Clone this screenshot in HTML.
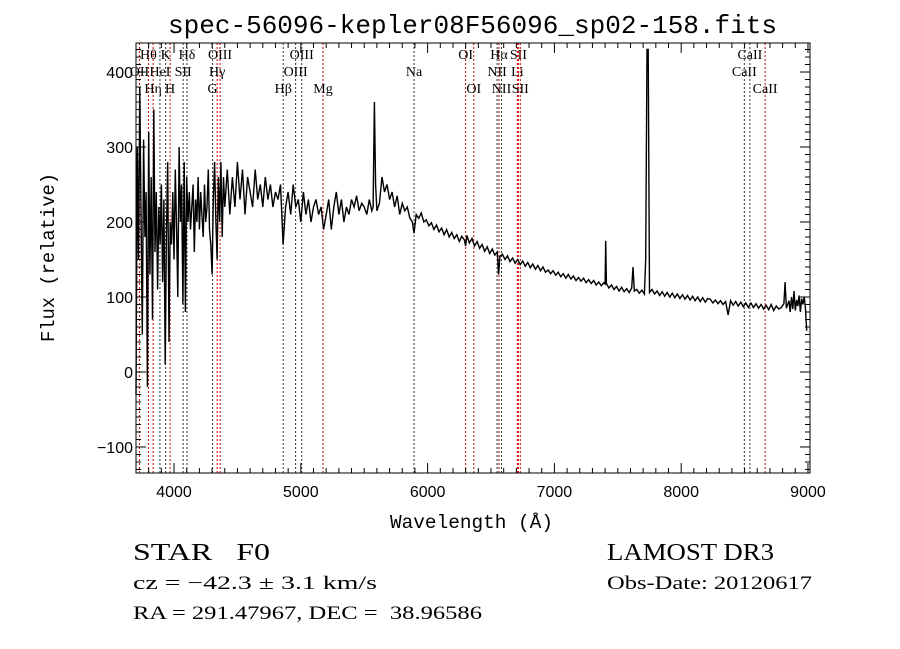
<!DOCTYPE html>
<html><head><meta charset="utf-8"><style>
html,body{margin:0;padding:0;background:#fff;}
svg{display:block;}
text{font-family:"Liberation Sans",sans-serif;fill:#000;white-space:pre;}
.m{font-family:"Liberation Mono",monospace;}
.s{font-family:"Liberation Serif",serif;}
</style></head><body>
<svg id="chart" width="900" height="649" viewBox="0 0 900 649" xmlns="http://www.w3.org/2000/svg" xml:space="preserve">
<rect width="900" height="649" fill="#fff"/>
<text class="m" x="168" y="33" font-size="26" textLength="609" lengthAdjust="spacingAndGlyphs">spec-56096-kepler08F56096_sp02-158.fits</text>
<text class="m" x="390" y="528" font-size="19" textLength="163" lengthAdjust="spacingAndGlyphs">Wavelength (Å)</text>
<text class="m" transform="translate(54,342) rotate(-90)" font-size="19" textLength="169" lengthAdjust="spacingAndGlyphs">Flux (relative)</text>
<text class="s" x="133" y="560" font-size="24" textLength="137" lengthAdjust="spacingAndGlyphs">STAR   F0</text>
<text class="s" x="607" y="560" font-size="24" textLength="167" lengthAdjust="spacingAndGlyphs">LAMOST DR3</text>
<text class="s" x="133" y="589" font-size="19" textLength="244" lengthAdjust="spacingAndGlyphs">cz = −42.3 ± 3.1 km/s</text>
<text class="s" x="607" y="589" font-size="19" textLength="205" lengthAdjust="spacingAndGlyphs">Obs-Date: 20120617</text>
<text class="s" x="133" y="619" font-size="19" textLength="349" lengthAdjust="spacingAndGlyphs">RA = 291.47967, DEC =  38.96586</text>
<g id="plot"></g>
</svg>
<script>
const wavelengths=[3700,3710,3720,3730,3740,3750,3760,3770,3780,3790,3800,3810,3820,3830,3840,3850,3860,3870,3880,3890,3900,3910,3920,3930,3940,3950,3960,3970,3980,3990,4000,4010,4020,4030,4040,4050,4060,4070,4080,4090,4100,4110,4120,4130,4140,4150,4160,4170,4180,4190,4200,4210,4220,4230,4240,4250,4260,4270,4280,4290,4300,4310,4320,4330,4340,4350,4360,4370,4380,4390,4400,
4420,4440,4460,4480,4500,4520,4540,4560,4580,4600,4620,4640,4660,4680,4700,4720,4740,4760,4780,4800,4820,4840,4860,4880,4900,4920,4940,4960,4980,5000,5020,5040,5060,5080,5100,5120,5140,5160,5180,5200,5220,5240,5260,5280,5300,5320,5340,5360,5380,5400,5420,5440,5460,5480,5500,5520,5540,5560,5570,5580,5590,5600,5620,5640,5660,5680,5700,5720,5740,5760,5780,5800,5820,5840,5860,5880,5893,5910,
5930,5950,5970,5990,6010,6030,6050,6070,6090,6110,6130,6150,6170,6190,6210,6230,6250,6270,6290,6300,6310,6330,6350,6370,6390,6410,6430,6450,6470,6490,6510,6530,6550,6560,6570,6590,6610,6630,6650,6670,6690,6710,6730,6750,6770,6790,6810,6830,6850,6870,6890,6910,6930,6950,6970,6990,7010,7030,7050,7070,7090,7110,7130,7150,7170,7190,7210,7230,7250,7270,7290,7310,7330,7350,7370,7390,7400,7405,7410,7430,7450,7470,7490,7510,7530,7550,7570,7590,7610,7620,7630,7650,7670,7690,7710,7720,7730,7740,7750,7770,7790,7810,7830,7850,7870,7890,7910,7930,7950,7970,7990,8010,8030,8050,8070,8090,8110,8130,8150,8170,8190,8210,8230,8250,8270,8290,8310,8330,8350,8370,8390,8410,8430,8450,8470,8490,8510,8530,8550,8570,8590,8610,8630,8650,8670,8690,8710,8730,8750,8770,8790,8810,8820,8830,8850,8860,8870,8880,8890,8900,8910,8920,8930,8940,8950,8960,8970,8980,8990,9000];
const fluxes=[-30,300,150,380,200,50,310,180,240,-20,320,130,260,70,350,160,240,110,220,170,250,120,230,10,180,280,40,200,170,240,150,270,190,100,300,200,250,90,280,80,260,200,240,190,220,250,160,230,200,260,190,240,210,180,250,200,220,270,190,170,130,230,280,200,150,260,200,280,180,260,220,
270,210,260,220,280,230,270,210,260,240,220,270,230,250,220,260,230,250,220,240,230,250,170,220,240,210,250,220,230,200,240,210,230,200,220,230,210,220,190,210,230,190,220,240,210,230,200,220,210,230,220,235,215,225,220,210,230,215,220,360,250,215,225,260,240,250,230,240,220,235,210,225,215,220,205,200,185,210,
205,212,200,203,195,199,190,196,187,192,183,190,180,186,178,183,174,181,176,168,182,172,178,168,174,165,170,161,167,158,164,156,160,130,154,157,150,155,147,152,145,150,143,148,141,146,139,144,137,142,135,140,133,136,131,135,129,133,127,131,125,130,124,128,122,126,121,125,119,123,118,122,116,120,115,119,117,175,118,112,116,110,114,108,113,107,111,106,112,140,108,110,105,109,104,150,430,430,106,110,104,108,102,107,101,106,100,105,99,104,98,103,97,102,96,101,95,100,94,99,93,98,97,92,96,91,95,90,94,76,95,89,94,88,93,87,92,86,92,86,91,85,90,84,89,83,90,82,88,84,86,91,120,85,95,80,100,84,108,82,96,88,102,80,98,90,100,86,55];
const xTicks=[4000,5000,6000,7000,8000,9000];
const yTicks=[-100,0,100,200,300,400];
const lineWaves=[3727,3798,3835,3889,3934,3969,4072,4102,4304,4340,4363,4861,4959,5007,5175,5893,6300,6364,6548,6563,6583,6708,6716,6731,8498,8542,8662];
const lineLabels=["OII","Hθ","Hη","HeI","K","H","SII","Hδ","G","Hγ","OIII","Hβ","OIII","OIII","Mg","Na","OI","OI","NII","Hα","NII","Li","SII","SII","CaII","CaII","CaII"];
const lineRows=[2,1,3,2,1,3,2,1,3,2,1,3,2,1,3,2,1,3,2,1,3,2,1,3,2,1,3];
const lineRed=[1,1,1,0,0,1,0,0,0,1,1,0,0,0,1,0,1,1,0,1,0,1,1,1,0,0,1];
const X0=136,X1=810,Y0=43,Y1=473,WMIN=3700,WMAX=9016,FMIN=-134.7,FMAX=438.7;
const xs=w=>X0+(w-WMIN)/(WMAX-WMIN)*(X1-X0);
const ys=f=>Y1-(f-FMIN)/(FMAX-FMIN)*(Y1-Y0);
const NS="http://www.w3.org/2000/svg",g=document.getElementById('plot');
function mk(t,a){const e=document.createElementNS(NS,t);for(const k in a)e.setAttribute(k,a[k]);g.appendChild(e);return e;}
const rowY=[0,59,76,93];
lineWaves.forEach((w,i)=>{const x=xs(w);
 const l=mk('line',{x1:x,x2:x,y1:Y0,y2:Y1,stroke:lineRed[i]?'#c00':'#333','stroke-width':1,'stroke-dasharray':'2,2'});
 
 
 const t=mk('text',{x:x,y:rowY[lineRows[i]],'font-size':14,'text-anchor':'middle',class:'s'});
 t.textContent=lineLabels[i];
 
 
});
let d='';wavelengths.forEach((w,i)=>{d+=(i?'L':'M')+xs(w).toFixed(1)+','+ys(fluxes[i]).toFixed(1);});
const p=mk('path',{d:d,fill:'none',stroke:'#000','stroke-width':1.4,'stroke-linejoin':'miter'});


const fr=mk('rect',{x:X0,y:Y0,width:X1-X0,height:Y1-Y0,fill:'none',stroke:'#000','stroke-width':1});


for(let w=3800;w<=9000;w+=100){const x=xs(w),L=(w%1000===0)?10:5;
 mk('line',{x1:x,x2:x,y1:Y1,y2:Y1-L,stroke:'#000'});mk('line',{x1:x,x2:x,y1:Y0,y2:Y0+L,stroke:'#000'});}
for(let f=-130;f<=430;f+=10){const y=ys(f),L=(f%100===0)?10:5;
 mk('line',{x1:X0,x2:X0+L,y1:y,y2:y,stroke:'#000'});mk('line',{x1:X1,x2:X1-L,y1:y,y2:y,stroke:'#000'});}
xTicks.forEach(v=>{const t=mk('text',{x:xs(v),y:Y1+24,'font-size':16,'text-anchor':'middle'});t.textContent=v;
 
 });
yTicks.forEach(v=>{const t=mk('text',{x:X0-3,y:ys(v)+6,'font-size':16,'text-anchor':'end'});t.textContent=v<0?'−'+(-v):v;
 
 });
</script>
</body></html>
